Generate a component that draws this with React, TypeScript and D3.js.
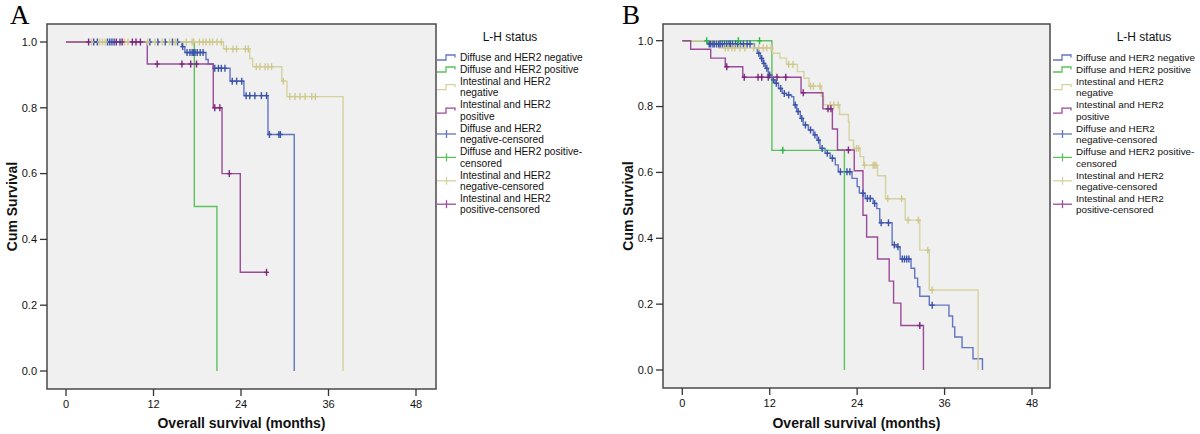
import React from "react";
import * as d3 from "d3";

// ---------- shared labels ----------
const xTicks = [0, 12, 24, 36, 48];
const yTicks = [0, 0.2, 0.4, 0.6, 0.8, 1.0];
const xTitle = "Overall survival (months)";
const yTitle = "Cum Survival";
const legendTitle = "L-H status";
const legendItems: string[][] = [
  ["Diffuse and HER2 negative"],
  ["Diffuse and HER2 positive"],
  ["Intestinal and HER2", "negative"],
  ["Intestinal and HER2", "positive"],
  ["Diffuse and HER2", "negative-censored"],
  ["Diffuse and HER2 positive-", "censored"],
  ["Intestinal and HER2", "negative-censored"],
  ["Intestinal and HER2", "positive-censored"],
];

// ---------- Panel A data ----------
const aDiffNegTimes = [15.9, 16.3, 19.2, 19.5, 20.2, 22.5, 24.4, 27.7, 31.3];
const aDiffNegSurv = [0.986, 0.968, 0.947, 0.933, 0.92, 0.881, 0.837, 0.719, 0];
const aDiffNegCensor = [3.8, 4.3, 5.7, 6.0, 6.3, 6.6, 7.4, 11.5, 12.6, 13.6, 14.6, 15.3, 16.0, 16.6, 17.0, 17.3, 17.5, 17.7, 18.0, 18.4, 18.8, 20.4, 20.9, 21.3, 21.8, 22.8, 23.4, 24.1, 24.7, 25.2, 25.9, 26.8, 27.5, 27.9, 29.2, 29.4];

const aDiffPosTimes = [17.6, 20.7];
const aDiffPosSurv = [0.5, 0];
const aDiffPosCensor: number[] = [];

const aIntNegTimes = [21.6, 25.2, 25.6, 29.6, 30.3, 38.0];
const aIntNegSurv = [0.979, 0.95, 0.925, 0.881, 0.834, 0];
const aIntNegCensor = [3.5, 4.6, 5.0, 5.4, 8.0, 8.5, 11.2, 12.2, 13.2, 14.2, 15.0, 16.5, 17.3, 17.5, 18.3, 18.8, 19.2, 19.7, 20.1, 20.7, 21.3, 22.0, 22.9, 23.4, 24.6, 25.0, 26.1, 26.6, 27.3, 27.7, 28.2, 29.8, 30.7, 31.4, 32.1, 32.8, 33.7, 34.2];

const aIntPosTimes = [11.15, 20.2, 21.4, 23.9];
const aIntPosSurv = [0.933, 0.8, 0.6, 0.3];
const aIntPosCensor = [3.1, 6.9, 7.7, 9.1, 9.6, 10.2, 12.5, 15.9, 17.1, 17.9, 20.4, 21.1, 22.4, 27.5];

// ---------- Panel B data ----------
const bDiffNegTimes = [3.5, 9.9, 10.3, 10.7, 11.1, 11.4, 11.8, 12.3, 12.7, 13.2, 13.7, 14.3, 15.0, 15.3, 15.7, 16.2, 16.6, 17.3, 18.0, 18.5, 18.9, 19.6, 20.3, 21.0, 21.4, 23.3, 24.0, 24.3, 25.1, 26.2, 26.7, 27.1, 28.8, 29.5, 29.9, 31.4, 31.9, 32.3, 32.6, 33.9, 36.6, 37.1, 37.4, 38.4, 39.9, 41.2];
const bDiffNegSurv = [0.99, 0.977, 0.962, 0.946, 0.931, 0.916, 0.896, 0.881, 0.871, 0.855, 0.84, 0.835, 0.83, 0.805, 0.785, 0.764, 0.744, 0.729, 0.714, 0.698, 0.673, 0.658, 0.643, 0.623, 0.602, 0.582, 0.557, 0.537, 0.521, 0.506, 0.49, 0.447, 0.38, 0.374, 0.337, 0.309, 0.279, 0.253, 0.224, 0.197, 0.164, 0.131, 0.1, 0.068, 0.034, 0];
const bDiffNegCensor = [3.7, 3.9, 4.2, 4.4, 4.7, 5.0, 5.2, 5.5, 5.8, 6.1, 6.4, 6.6, 6.9, 7.3, 7.6, 8.0, 8.4, 8.9, 9.3, 10.5, 10.9, 11.2, 11.6, 12.0, 12.5, 12.9, 13.5, 14.0, 14.6, 15.5, 15.9, 16.4, 16.9, 17.6, 18.2, 18.7, 19.2, 19.9, 20.6, 21.7, 22.6, 23.0, 24.8, 25.4, 25.8, 26.4, 27.3, 28.3, 29.1, 29.6, 30.2, 30.5, 30.8, 31.1, 34.3];

const bDiffPosTimes = [12.3, 22.25];
const bDiffPosSurv = [0.667, 0];
const bDiffPosCensor = [3.35, 7.7, 10.6, 13.8];

const bIntNegTimes = [5.0, 12.4, 13.4, 14.3, 15.8, 16.7, 17.4, 19.1, 19.4, 21.6, 22.8, 22.9, 23.5, 24.4, 24.9, 26.8, 27.9, 30.6, 32.6, 33.9, 40.6];
const bIntNegSurv = [0.978, 0.962, 0.947, 0.928, 0.906, 0.886, 0.862, 0.832, 0.805, 0.776, 0.754, 0.698, 0.673, 0.648, 0.622, 0.59, 0.52, 0.455, 0.364, 0.243, 0];
const bIntNegCensor = [5.9, 6.3, 6.8, 7.2, 7.9, 8.6, 9.8, 10.5, 11.1, 11.6, 12.2, 14.6, 15.2, 17.6, 18.0, 18.9, 20.3, 20.8, 21.4, 23.9, 24.2, 25.0, 26.2, 26.4, 26.6, 28.2, 30.1, 31.0, 32.4, 33.7, 34.3];

const bIntPosTimes = [1.15, 3.9, 5.9, 8.3, 16.3, 19.3, 20.6, 21.3, 23.6, 24.8, 25.3, 26.8, 28.4, 29.0, 30.0, 33.1];
const bIntPosSurv = [0.974, 0.947, 0.921, 0.889, 0.842, 0.793, 0.732, 0.668, 0.605, 0.47, 0.404, 0.337, 0.27, 0.203, 0.135, 0];
const bIntPosCensor = [6.1, 8.5, 10.4, 10.9, 11.8, 13.0, 14.2, 16.6, 20.0, 20.4, 22.8, 32.6];

// ---------- styles ----------
const lineColors = ["#6275c4", "#5cc25c", "#d6d2a0", "#9a4b98"];
const markColors = ["#3a52a8", "#2eb848", "#cfc990", "#7c287d"];
const SANS = "'Liberation Sans', Arial, sans-serif";

type Series = { times: number[]; surv: number[]; censor: number[] };

const seriesA: Series[] = [
  { times: aDiffNegTimes, surv: aDiffNegSurv, censor: aDiffNegCensor },
  { times: aDiffPosTimes, surv: aDiffPosSurv, censor: aDiffPosCensor },
  { times: aIntNegTimes, surv: aIntNegSurv, censor: aIntNegCensor },
  { times: aIntPosTimes, surv: aIntPosSurv, censor: aIntPosCensor },
];
const seriesB: Series[] = [
  { times: bDiffNegTimes, surv: bDiffNegSurv, censor: bDiffNegCensor },
  { times: bDiffPosTimes, surv: bDiffPosSurv, censor: bDiffPosCensor },
  { times: bIntNegTimes, surv: bIntNegSurv, censor: bIntNegCensor },
  { times: bIntPosTimes, surv: bIntPosSurv, censor: bIntPosCensor },
];

function survAt(s: Series, t: number) {
  const i = d3.bisectRight(s.times, t);
  return i === 0 ? 1 : s.surv[i - 1];
}

type PanelProps = {
  label: string;
  labelX: number;
  left: number;
  right: number;
  top: number;
  bottom: number;
  x0: number;
  x48: number;
  y1: number;
  y0: number;
  series: Series[];
  legendSymX: number;
  legendTextX: number;
  legendTitleX: number;
  legendFont: number;
};

function Panel(p: PanelProps) {
  const x = d3.scaleLinear().domain([0, 48]).range([p.x0, p.x48]);
  const y = d3.scaleLinear().domain([0, 1]).range([p.y0, p.y1]);
  const line = d3
    .line<[number, number]>()
    .x((d) => x(d[0]))
    .y((d) => y(d[1]))
    .curve(d3.curveStepAfter);

  const lineH = 11.4;
  const gap = 0.6;
  let cy = 57.5;
  const rows: { lines: string[]; ys: number[]; mid: number }[] = [];
  legendItems.forEach((it) => {
    const ys = it.map((_, k) => cy + k * lineH);
    rows.push({ lines: it, ys, mid: (ys[0] + ys[ys.length - 1]) / 2 });
    cy = ys[ys.length - 1] + lineH + gap;
  });

  const midX = (p.left + p.right) / 2;
  const midY = (p.top + p.bottom) / 2;

  return (
    <g>
      <text x={p.labelX} y={24} fontFamily="'Liberation Serif', 'Times New Roman', serif" fontSize={27} fill="#000">
        {p.label}
      </text>
      <rect x={p.left} y={p.top} width={p.right - p.left} height={p.bottom - p.top} fill="#f0f0f0" />
      {p.series.map((s, i) => {
        const pts: [number, number][] = [[0, 1]];
        s.times.forEach((t, k) => pts.push([t, s.surv[k]]));
        const lastT = s.times[s.times.length - 1];
        const lastC = s.censor.length ? d3.max(s.censor)! : 0;
        if (lastC > lastT) pts.push([lastC, s.surv[s.surv.length - 1]]);
        return <path key={"l" + i} d={line(pts) || ""} fill="none" stroke={lineColors[i]} strokeWidth={1.4} />;
      })}
      {p.series.map((s, i) => (
        <g key={"c" + i} stroke={markColors[i]} strokeWidth={1.4}>
          {s.censor.map((t, k) => {
            const cx = x(t);
            const cyy = y(survAt(s, t));
            return (
              <g key={k}>
                <line x1={cx} x2={cx} y1={cyy - 3.5} y2={cyy + 3.5} />
                <line x1={cx - 2.5} x2={cx + 2.5} y1={cyy} y2={cyy} />
              </g>
            );
          })}
        </g>
      ))}
      <rect x={p.left} y={p.top} width={p.right - p.left} height={p.bottom - p.top} fill="none" stroke="#4a4a4a" strokeWidth={1.5} />
      {yTicks.map((t) => (
        <g key={"y" + t}>
          <line x1={p.left - 7} x2={p.left} y1={y(t)} y2={y(t)} stroke="#333" strokeWidth={1.3} />
          <text x={p.left - 10} y={y(t)} dy="0.35em" textAnchor="end" fontFamily={SANS} fontSize={11} fill="#111">
            {t.toFixed(1)}
          </text>
        </g>
      ))}
      {xTicks.map((t) => (
        <g key={"x" + t}>
          <line x1={x(t)} x2={x(t)} y1={p.bottom} y2={p.bottom + 7} stroke="#333" strokeWidth={1.3} />
          <text x={x(t)} y={p.bottom + 19} textAnchor="middle" fontFamily={SANS} fontSize={11} fill="#111">
            {t}
          </text>
        </g>
      ))}
      <text x={midX} y={428} textAnchor="middle" fontFamily={SANS} fontSize={14} fontWeight="bold" fill="#111">
        {xTitle}
      </text>
      <text
        transform={`translate(${p.left - 30},${midY}) rotate(-90)`}
        textAnchor="middle"
        fontFamily={SANS}
        fontSize={14}
        fontWeight="bold"
        fill="#111"
      >
        {yTitle}
      </text>
      <text x={p.legendTitleX} y={41} textAnchor="middle" fontFamily={SANS} fontSize={12} fill="#111">
        {legendTitle}
      </text>
      {rows.map((r, i) => {
        const col = lineColors[i % 4];
        const sx = p.legendSymX;
        const m = r.mid;
        return (
          <g key={"lg" + i}>
            {i < 4 ? (
              <path
                d={`M${sx},${m + 2.5}H${sx + 9}V${m - 2.5}H${sx + 18}V${m}`}
                fill="none"
                stroke={col}
                strokeWidth={1.3}
              />
            ) : (
              <g stroke={col} strokeWidth={1.3}>
                <line x1={sx} x2={sx + 19} y1={m} y2={m} />
                <line x1={sx + 9.5} x2={sx + 9.5} y1={m - 4} y2={m + 4} />
              </g>
            )}
            {r.lines.map((ln, k) => (
              <text key={k} x={p.legendTextX} y={r.ys[k]} dy="0.35em" fontFamily={SANS} fontSize={p.legendFont} fill="#111">
                {ln}
              </text>
            ))}
          </g>
        );
      })}
    </g>
  );
}

export default function App() {
  return (
    <svg
      width={1200}
      height={434}
      style={{ position: "absolute", left: 0, top: 0, display: "block", background: "#fff" }}
    >
      <rect width={1200} height={434} fill="#fff" />
      <Panel
        label="A"
        labelX={10}
        left={47}
        right={436}
        top={24}
        bottom={389}
        x0={66}
        x48={416}
        y1={42}
        y0={371}
        series={seriesA}
        legendSymX={437}
        legendTextX={460}
        legendTitleX={510}
        legendFont={10.2}
      />
      <Panel
        label="B"
        labelX={622}
        left={663}
        right={1050}
        top={24}
        bottom={388}
        x0={682.3}
        x48={1032}
        y1={40.7}
        y0={370}
        series={seriesB}
        legendSymX={1053}
        legendTextX={1076}
        legendTitleX={1144}
        legendFont={9.9}
      />
    </svg>
  );
}
